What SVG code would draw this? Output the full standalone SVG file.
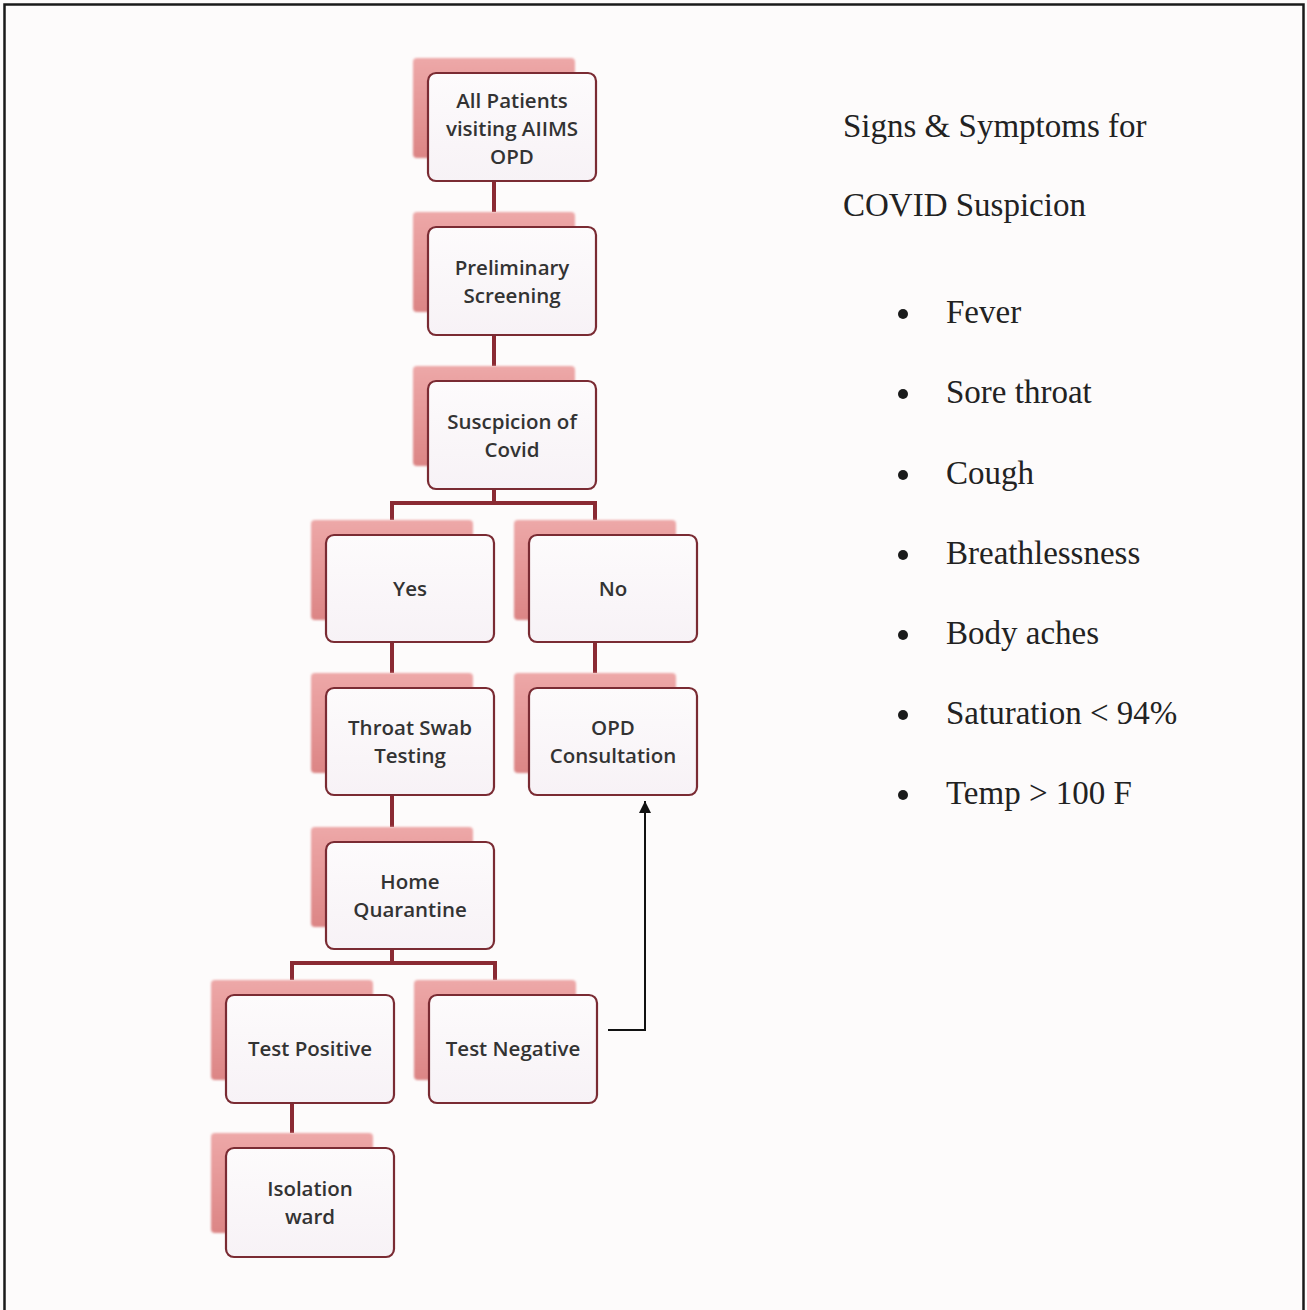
<svg xmlns="http://www.w3.org/2000/svg" width="1307" height="1310" viewBox="0 0 1307 1310">
  <defs>
    <linearGradient id="backFill" x1="0" y1="0" x2="0" y2="1">
      <stop offset="0" stop-color="#eda8a8"/>
      <stop offset="1" stop-color="#dc8585"/>
    </linearGradient>
    <linearGradient id="frontFill" x1="0" y1="0" x2="0" y2="1">
      <stop offset="0" stop-color="#fdfbfc"/>
      <stop offset="1" stop-color="#f7f2f6"/>
    </linearGradient>
    <filter id="soft" x="-10%" y="-10%" width="120%" height="120%">
      <feGaussianBlur stdDeviation="1.2"/>
    </filter>
    <marker id="arrowUp" viewBox="0 0 10 10" refX="10" refY="5" markerWidth="12" markerHeight="12" markerUnits="userSpaceOnUse" orient="auto">
      <path d="M0,0 L10,5 L0,10 z" fill="#111"/>
    </marker>
  </defs>
  <style>
    .back { fill: url(#backFill); filter: url(#soft); }
    .front { fill: url(#frontFill); stroke: #7a2b33; stroke-width: 2.2; }
    .label { font-family: "Open Sans", "Noto Sans", sans-serif; font-size: 20.5px; font-weight: 600; fill: #333; text-anchor: middle; }
    .link { fill: none; stroke: #8a2a33; stroke-width: 4; }
    .arrow { fill: none; stroke: #111; stroke-width: 2; }
    .side { font-family: "Liberation Serif", "Times New Roman", serif; font-size: 33px; fill: #222; }
    .dot { fill: #1a1a1a; }
  </style>

  <!-- page and frame -->
  <rect x="0" y="0" width="1307" height="1310" fill="#fdfbfb"/>
  <path d="M4.5,1312 V4.5 H1303.5 V1312" fill="none" stroke="#1a1a1a" stroke-width="2.5"/>

  <!-- connectors -->
  <g id="connectors">
    <path class="link" d="M494,181 V212"/>
    <path class="link" d="M494,335 V366"/>
    <path class="link" d="M494,489 V503"/>
    <path class="link" d="M392,520 V503 H595 V520"/>
    <path class="link" d="M392,642 V673"/>
    <path class="link" d="M595,642 V673"/>
    <path class="link" d="M392,795 V827"/>
    <path class="link" d="M392,949 V963"/>
    <path class="link" d="M292,980 V963 H495 V980"/>
    <path class="link" d="M292,1103 V1133"/>
    <path class="arrow" d="M608,1030 H645 V801" marker-end="url(#arrowUp)"/>
  </g>

  <!-- nodes: a tinted card behind, a framed card in front -->
  <g id="node-all-patients">
    <rect class="back" x="413" y="58" width="162" height="100" rx="4"/>
    <rect class="front" x="428" y="73" width="168" height="108" rx="8"/>
    <text class="label" x="512" y="108">All Patients</text>
    <text class="label" x="512" y="136">visiting AIIMS</text>
    <text class="label" x="512" y="164">OPD</text>
  </g>
  <g id="node-preliminary">
    <rect class="back" x="413" y="212" width="162" height="100" rx="4"/>
    <rect class="front" x="428" y="227" width="168" height="108" rx="8"/>
    <text class="label" x="512" y="275">Preliminary</text>
    <text class="label" x="512" y="303">Screening</text>
  </g>
  <g id="node-suspicion">
    <rect class="back" x="413" y="366" width="162" height="100" rx="4"/>
    <rect class="front" x="428" y="381" width="168" height="108" rx="8"/>
    <text class="label" x="512" y="429">Suscpicion of</text>
    <text class="label" x="512" y="457">Covid</text>
  </g>
  <g id="node-yes">
    <rect class="back" x="311" y="520" width="162" height="100" rx="4"/>
    <rect class="front" x="326" y="535" width="168" height="107" rx="8"/>
    <text class="label" x="410" y="596">Yes</text>
  </g>
  <g id="node-no">
    <rect class="back" x="514" y="520" width="162" height="100" rx="4"/>
    <rect class="front" x="529" y="535" width="168" height="107" rx="8"/>
    <text class="label" x="613" y="596">No</text>
  </g>
  <g id="node-throat-swab">
    <rect class="back" x="311" y="673" width="162" height="100" rx="4"/>
    <rect class="front" x="326" y="688" width="168" height="107" rx="8"/>
    <text class="label" x="410" y="735">Throat Swab</text>
    <text class="label" x="410" y="763">Testing</text>
  </g>
  <g id="node-opd-consultation">
    <rect class="back" x="514" y="673" width="162" height="100" rx="4"/>
    <rect class="front" x="529" y="688" width="168" height="107" rx="8"/>
    <text class="label" x="613" y="735">OPD</text>
    <text class="label" x="613" y="763">Consultation</text>
  </g>
  <g id="node-home-quarantine">
    <rect class="back" x="311" y="827" width="162" height="100" rx="4"/>
    <rect class="front" x="326" y="842" width="168" height="107" rx="8"/>
    <text class="label" x="410" y="889">Home</text>
    <text class="label" x="410" y="917">Quarantine</text>
  </g>
  <g id="node-test-positive">
    <rect class="back" x="211" y="980" width="162" height="100" rx="4"/>
    <rect class="front" x="226" y="995" width="168" height="108" rx="8"/>
    <text class="label" x="310" y="1056">Test Positive</text>
  </g>
  <g id="node-test-negative">
    <rect class="back" x="414" y="980" width="162" height="100" rx="4"/>
    <rect class="front" x="429" y="995" width="168" height="108" rx="8"/>
    <text class="label" x="513" y="1056">Test Negative</text>
  </g>
  <g id="node-isolation">
    <rect class="back" x="211" y="1133" width="162" height="100" rx="4"/>
    <rect class="front" x="226" y="1148" width="168" height="109" rx="8"/>
    <text class="label" x="310" y="1196">Isolation</text>
    <text class="label" x="310" y="1224">ward</text>
  </g>

  <!-- symptom list -->
  <g id="symptoms">
    <text class="side" x="843" y="137">Signs &amp; Symptoms for</text>
    <text class="side" x="843" y="216">COVID Suspicion</text>
    <circle class="dot" cx="903" cy="314" r="5"/>
    <text class="side" x="946" y="323">Fever</text>
    <circle class="dot" cx="903" cy="394" r="5"/>
    <text class="side" x="946" y="403">Sore throat</text>
    <circle class="dot" cx="903" cy="475" r="5"/>
    <text class="side" x="946" y="484">Cough</text>
    <circle class="dot" cx="903" cy="555" r="5"/>
    <text class="side" x="946" y="564">Breathlessness</text>
    <circle class="dot" cx="903" cy="635" r="5"/>
    <text class="side" x="946" y="644">Body aches</text>
    <circle class="dot" cx="903" cy="715" r="5"/>
    <text class="side" x="946" y="724">Saturation &lt; 94%</text>
    <circle class="dot" cx="903" cy="795" r="5"/>
    <text class="side" x="946" y="804">Temp &gt; 100 F</text>
  </g>
</svg>
